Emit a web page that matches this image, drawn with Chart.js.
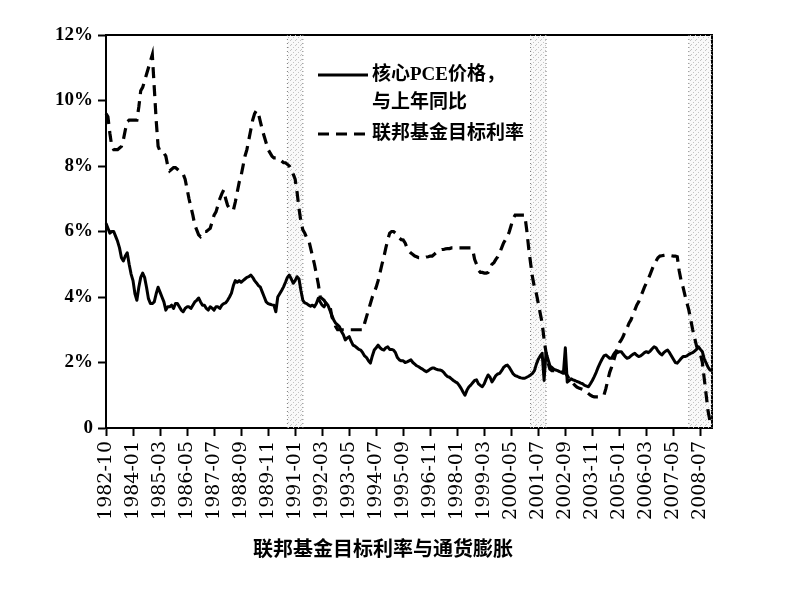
<!DOCTYPE html>
<html lang="zh-CN">
<head>
<meta charset="UTF-8">
<title>联邦基金目标利率与通货膨胀</title>
<script src="https://cdn.jsdelivr.net/npm/chart.js@4.4.0/dist/chart.umd.min.js"></script>
<style>
  html, body { margin: 0; padding: 0; background: #fff; }
  .wrap { width: 787px; height: 595px; }
</style>
</head>
<body>
<div class="wrap"><canvas id="c" width="787" height="595"></canvas></div>
<script>
// 核心PCE价格同比 (%), 每月, 1982-10 起
const corePCE = [
  6.25, 6.1, 5.95,
  6.0, 6.0, 5.85, 5.7, 5.5, 5.2, 5.1, 5.25, 5.35, 5.0, 4.7, 4.5,
  4.1, 3.9, 4.3, 4.6, 4.73, 4.6, 4.3, 3.95, 3.8, 3.8, 3.85, 4.1,
  4.3, 4.15, 4.0, 3.85, 3.6, 3.7, 3.7, 3.75, 3.65, 3.8, 3.8, 3.7,
  3.6, 3.55, 3.65, 3.7, 3.7, 3.65, 3.75, 3.85, 3.9, 3.97, 3.85, 3.75,
  3.75, 3.65, 3.6, 3.7, 3.66, 3.6, 3.7, 3.7, 3.65, 3.75, 3.8, 3.82,
  3.9, 4.0, 4.12, 4.35, 4.5, 4.45, 4.5, 4.45, 4.5, 4.55, 4.6, 4.62,
  4.67, 4.6, 4.5, 4.43, 4.35, 4.3, 4.15, 4.0, 3.85, 3.8, 3.78, 3.76,
  3.75, 3.55, 4.0, 4.1, 4.2, 4.31, 4.45, 4.6, 4.67, 4.55, 4.42, 4.5,
  4.62, 4.55, 4.2, 3.9, 3.82, 3.8, 3.75, 3.72, 3.75, 3.7, 3.8, 3.96,
  3.85, 3.75, 3.7, 3.82, 3.75, 3.6, 3.45, 3.3, 3.2, 3.15, 3.09, 2.95,
  2.85, 2.69, 2.75, 2.79, 2.65, 2.53, 2.5, 2.45, 2.4, 2.38, 2.3, 2.2,
  2.15, 2.05, 1.98, 2.2, 2.38, 2.45, 2.53, 2.45, 2.4, 2.38, 2.45, 2.48,
  2.4, 2.4, 2.38, 2.3, 2.15, 2.08, 2.05, 2.05, 2.0, 2.02, 2.05, 2.08,
  2.0, 1.95, 1.9, 1.87, 1.83, 1.8, 1.75, 1.72, 1.75, 1.8, 1.83, 1.83,
  1.8, 1.78, 1.77, 1.75, 1.7, 1.62, 1.57, 1.55, 1.5, 1.45, 1.41, 1.38,
  1.3, 1.21, 1.1, 1.0, 1.15, 1.25, 1.31, 1.38, 1.45, 1.47, 1.35, 1.3,
  1.26, 1.35, 1.5, 1.62, 1.55, 1.41, 1.5, 1.6, 1.65, 1.67, 1.75, 1.85,
  1.9, 1.92, 1.85, 1.75, 1.65, 1.6, 1.58, 1.55, 1.53, 1.52, 1.52, 1.55,
  1.58, 1.62, 1.67, 1.75, 1.95, 2.1, 2.2, 2.28, 1.45, 2.3, 2.1, 1.9,
  1.85, 1.8, 1.77, 1.75, 1.72, 1.7, 1.67, 2.45, 1.4, 1.45, 1.5, 1.47,
  1.45, 1.42, 1.4, 1.37, 1.35, 1.3, 1.28, 1.26, 1.35, 1.45, 1.57, 1.7,
  1.85, 1.98, 2.1, 2.2, 2.23, 2.18, 2.13, 2.13, 2.25, 2.33, 2.3, 2.33,
  2.33, 2.25, 2.18, 2.13, 2.15, 2.2, 2.25, 2.28, 2.22, 2.18, 2.2, 2.25,
  2.3, 2.33, 2.3, 2.35, 2.42, 2.48, 2.45, 2.35, 2.28, 2.23, 2.3, 2.35,
  2.38, 2.3, 2.2, 2.1, 2.0, 1.98, 2.05, 2.12, 2.18, 2.18, 2.2, 2.25,
  2.28, 2.3, 2.35, 2.4, 2.48, 2.4, 2.33, 2.1, 1.98, 1.85, 1.77, 1.75
];

// 联邦基金目标利率 (%), 每月, 1982-10 起
const fedTarget = [
  9.6, 9.5, 9.0,
  8.6, 8.5, 8.5, 8.5, 8.55, 8.6, 8.8, 9.1, 9.35, 9.4, 9.4, 9.4,
  9.4, 9.4, 9.8, 10.3, 10.4, 10.6, 10.8, 11.0, 11.2, 11.4, 10.4, 9.4,
  8.6, 8.45, 8.4, 8.4, 8.3, 8.0, 7.85, 7.9, 7.95, 7.95, 7.9, 7.85,
  7.8, 7.75, 7.6, 7.3, 7.0, 6.75, 6.5, 6.2, 6.05, 5.9, 5.84, 5.9,
  6.0, 6.0, 6.05, 6.1, 6.3, 6.5, 6.6, 6.8, 7.0, 7.15, 7.27, 7.0,
  6.8, 6.7, 6.65, 6.65, 6.9, 7.2, 7.5, 7.7, 8.0, 8.3, 8.5, 8.8,
  9.1, 9.4, 9.6, 9.7, 9.6, 9.35, 9.1, 8.9, 8.7, 8.5, 8.4, 8.3,
  8.25, 8.25, 8.2, 8.2, 8.15, 8.1, 8.1, 8.05, 8.0, 7.9, 7.75, 7.6,
  7.2, 6.7, 6.3, 6.05, 5.95, 5.8, 5.75, 5.5, 5.25, 5.0, 4.7, 4.4,
  4.0, 3.95, 3.9, 3.8, 3.75, 3.75, 3.4, 3.25, 3.1, 3.0, 3.0, 3.0,
  3.0, 3.0, 3.0, 3.0, 3.0, 3.0, 3.0, 3.0, 3.0, 3.0, 3.0, 3.2,
  3.4, 3.6, 3.8, 4.0, 4.15, 4.3, 4.5, 4.75, 5.0, 5.23, 5.5, 5.75,
  5.95, 6.0, 6.0, 5.95, 5.85, 5.8, 5.75, 5.74, 5.65, 5.5, 5.4, 5.34,
  5.3, 5.25, 5.23, 5.2, 5.2, 5.2, 5.2, 5.22, 5.23, 5.25, 5.25, 5.3,
  5.35, 5.4, 5.43, 5.45, 5.45, 5.47, 5.48, 5.48, 5.5, 5.5, 5.5, 5.5,
  5.5, 5.5, 5.5, 5.5, 5.5, 5.5, 5.5, 5.45, 5.15, 5.0, 4.82, 4.75,
  4.75, 4.73, 4.73, 4.75, 4.85, 5.0, 5.05, 5.15, 5.23, 5.35, 5.5, 5.65,
  5.75, 5.84, 6.0, 6.2, 6.4, 6.5, 6.5, 6.5, 6.5, 6.5, 6.5, 6.05,
  5.5, 5.03, 4.6, 4.3, 4.1, 3.8, 3.5, 3.2, 2.7, 2.3, 2.0, 1.8,
  1.75, 1.75, 1.75, 1.75, 1.75, 1.72, 1.7, 1.68, 1.6, 1.5, 1.4, 1.37,
  1.3, 1.25, 1.22, 1.2, 1.18, 1.16, 1.1, 1.05, 1.0, 0.97, 0.95, 0.95,
  0.95, 0.97, 1.0, 1.0, 1.2, 1.46, 1.7, 1.86, 2.05, 2.25, 2.45, 2.6,
  2.69, 2.8, 2.95, 3.05, 3.2, 3.3, 3.45, 3.6, 3.75, 3.85, 4.0, 4.15,
  4.3, 4.43, 4.55, 4.7, 4.85, 5.0, 5.1, 5.2, 5.25, 5.26, 5.27, 5.28,
  5.28, 5.27, 5.26, 5.25, 5.25, 5.23, 4.8, 4.5, 4.3, 4.05, 3.82, 3.6,
  3.3, 3.0, 2.75, 2.5, 2.35, 2.25, 2.0, 1.5, 1.0, 0.5, 0.2, 0.15
];

// 横轴刻度文字 (每14个月一个)
const tickLabels = [
  '1982-10', '1984-01', '1985-03', '1986-05', '1987-07', '1988-09',
  '1989-11', '1991-01', '1992-03', '1993-05', '1994-07', '1995-09',
  '1996-11', '1998-01', '1999-03', '2000-05', '2001-07', '2002-09',
  '2003-11', '2005-01', '2006-03', '2007-05', '2008-07'
];
const tickEvery = 14;

// 衰退期阴影
const recessions = [
  ['1990-08', '1991-04'],
  ['2001-02', '2001-10'],
  ['2007-12', '2008-12']
];

const months = [];
for (let y = 1982, m = 10; months.length < corePCE.length; ) {
  months.push(y + '-' + String(m).padStart(2, '0'));
  if (++m > 12) { m = 1; y++; }
}

// speckled light grey fill for the shaded bands
const dots = document.createElement('canvas');
dots.width = 5; dots.height = 5;
const dctx = dots.getContext('2d');
dctx.fillStyle = 'rgba(0,0,0,0.025)';
dctx.fillRect(0, 0, 5, 5);
dctx.fillStyle = '#c4c4c4';
dctx.fillRect(0, 0, 1, 1);
dctx.fillRect(3, 2, 1, 1);
dctx.fillRect(1, 4, 1, 1);

const recessionPlugin = {
  id: 'recessions',
  beforeDatasetsDraw(chart) {
    const { ctx, chartArea: a, scales: { x } } = chart;
    ctx.save();
    recessions.forEach(([s, e]) => {
      const l = x.getPixelForValue(months.indexOf(s));
      const r = x.getPixelForValue(months.indexOf(e));
      ctx.fillStyle = ctx.createPattern(dots, 'repeat');
      ctx.fillRect(l, a.top, r - l, a.bottom - a.top);
      ctx.setLineDash([1, 3]);
      ctx.strokeStyle = '#777';
      ctx.lineWidth = 1;
      ctx.beginPath();
      ctx.moveTo(l, a.top); ctx.lineTo(l, a.bottom);
      ctx.moveTo(r, a.top); ctx.lineTo(r, a.bottom);
      ctx.stroke();
    });
    ctx.restore();
  }
};

const legendPlugin = {
  id: 'innerLegend',
  afterDraw(chart) {
    const { ctx, chartArea: a } = chart;
    const x0 = a.left + 212, x1 = x0 + 50, tx = x1 + 4;
    const y = a.top + 40;
    ctx.save();
    ctx.font = 'bold 19px "Liberation Serif", "Noto Sans CJK SC"';
    ctx.fillStyle = '#000';
    ctx.strokeStyle = '#000';
    ctx.textBaseline = 'middle';
    ctx.lineWidth = 3;
    ctx.beginPath();
    ctx.moveTo(x0, y); ctx.lineTo(x1, y);
    ctx.stroke();
    ctx.fillText('核心PCE价格，', tx, y);
    ctx.fillText('与上年同比', tx, y + 28);
    ctx.setLineDash([11, 7]);
    ctx.beginPath();
    ctx.moveTo(x0, y + 59); ctx.lineTo(x1, y + 59);
    ctx.stroke();
    ctx.fillText('联邦基金目标利率', tx, y + 59);
    ctx.restore();
  }
};

const tickColor = c => (c.tick && c.tick.label ? '#000' : 'rgba(0,0,0,0)');

new Chart(document.getElementById('c'), {
  type: 'line',
  data: {
    labels: months,
    datasets: [
      {
        label: '核心PCE价格，与上年同比',
        data: corePCE,
        borderColor: '#000',
        borderWidth: 3,
        borderJoinStyle: 'round',
        pointRadius: 0,
        fill: false
      },
      {
        label: '联邦基金目标利率',
        data: fedTarget,
        borderColor: '#000',
        borderWidth: 3.2,
        borderDash: [11, 7],
        pointRadius: 0,
        fill: false
      }
    ]
  },
  options: {
    responsive: false,
    animation: false,
    layout: { padding: { right: 21 } },
    plugins: {
      legend: { display: false },
      tooltip: { enabled: false },
      title: {
        display: true,
        position: 'bottom',
        text: '联邦基金目标利率与通货膨胀',
        color: '#000',
        font: { family: 'Noto Sans CJK SC', size: 20, weight: 'bold' },
        padding: { top: 8, bottom: 35 }
      }
    },
    scales: {
      x: {
        type: 'category',
        grid: { drawOnChartArea: false, tickLength: 8, tickWidth: 2, tickColor: tickColor },
        border: { color: '#000', width: 2 },
        ticks: {
          autoSkip: false,
          minRotation: 90,
          maxRotation: 90,
          padding: 5,
          color: '#000',
          font: { family: 'DejaVu Serif', size: 19 },
          callback: (v, i) => (i % tickEvery === 0 ? tickLabels[i / tickEvery] : null)
        },
        afterFit: s => { s.height = 100; }
      },
      x2: {
        type: 'category',
        position: 'top',
        grid: { display: false },
        ticks: { display: false },
        border: { color: '#000', width: 2 },
        afterFit: s => { s.height = 35; }
      },
      y: {
        min: 0,
        max: 12,
        grid: { drawOnChartArea: false, tickLength: 8, tickWidth: 2, tickColor: '#000' },
        border: { color: '#000', width: 2 },
        ticks: {
          stepSize: 2,
          padding: 5,
          color: '#000',
          font: { family: 'Liberation Serif', size: 19, weight: 'bold' },
          callback: v => (v === 0 ? '0' : v + '%')
        },
        afterFit: s => { s.width = 106; }
      },
      y2: {
        position: 'right',
        min: 0,
        max: 12,
        grid: { display: false },
        ticks: { display: false },
        border: { color: '#000', width: 2 },
        afterFit: s => { s.width = 54; }
      }
    }
  },
  plugins: [recessionPlugin, legendPlugin]
});
</script>
</body>
</html>
